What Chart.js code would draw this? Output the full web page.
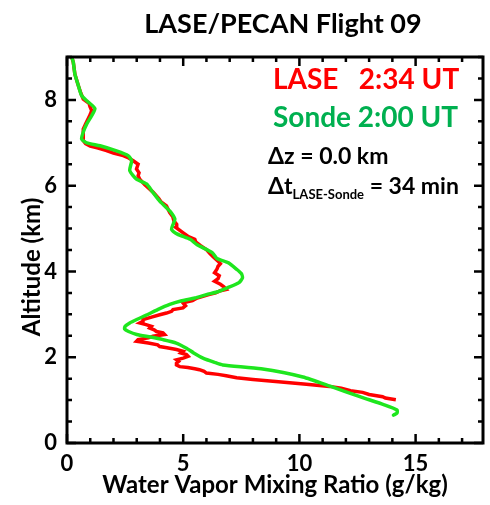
<!DOCTYPE html>
<html>
<head>
<meta charset="utf-8">
<script src="https://cdn.jsdelivr.net/npm/chart.js@4/dist/chart.umd.min.js"></script>
<style>
  html, body { margin: 0; padding: 0; background: #fff; }
  #wrap { width: 490px; height: 505px; }
</style>
</head>
<body>
<div id="wrap"><canvas id="chart" width="490" height="505"></canvas></div>
<script>
// ------------------------------------
// PROFILE DATA (altitude km, mixing ratio g/kg)
// ------------------------------------
const laseAlt = [
  1.01, 1.05, 1.08, 1.13, 1.18, 1.22, 1.28, 1.32, 1.37, 1.43, 1.48, 1.52,
  1.57, 1.60, 1.63, 1.67, 1.71, 1.73, 1.76, 1.78, 1.82, 1.86, 1.90, 1.94,
  1.98, 2.02, 2.06, 2.10, 2.14, 2.18, 2.22, 2.25, 2.29, 2.33, 2.37, 2.41,
  2.45, 2.49, 2.53, 2.57, 2.60, 2.64, 2.68, 2.72, 2.76, 2.80, 2.84, 2.88,
  2.93, 2.99, 3.03, 3.07, 3.11, 3.15, 3.20, 3.27, 3.32, 3.38, 3.42, 3.46,
  3.50, 3.55, 3.58, 3.64, 3.70, 3.77, 3.83, 3.90, 3.97, 4.05, 4.12, 4.18,
  4.24, 4.34, 4.42, 4.51, 4.60, 4.68, 4.75, 4.82, 4.90, 5.02, 5.10, 5.18,
  5.28, 5.37, 5.45, 5.53, 5.62, 5.70, 5.76, 5.85, 5.92, 6.02, 6.15, 6.23,
  6.30, 6.39, 6.50, 6.58, 6.66, 6.70, 6.76, 6.82, 6.88, 6.92, 6.98, 7.05,
  7.17, 7.32, 7.44, 7.56, 7.66, 7.75, 7.84, 7.92, 8.02, 8.15, 8.33, 8.60,
  8.88, 9.00
];
const laseQ = [
  14.15, 13.7, 13.58, 13.0, 12.72, 12.2, 11.8, 11.3, 10.3, 9.1, 8.0, 7.3,
  6.85, 6.5, 6.0, 5.9, 5.7, 5.5, 5.2, 4.85, 4.71, 4.71, 4.8, 4.71,
  5.0, 5.21, 5.14, 4.9, 4.99, 4.71, 4.3, 3.99, 3.9, 3.5, 2.99, 3.06,
  3.5, 3.7, 4.2, 4.13, 3.85, 3.75, 3.56, 3.63, 3.4, 3.13, 3.27, 3.27,
  3.6, 3.99, 4.28, 4.5, 4.56, 4.99, 5.1, 4.99, 5.4, 5.6, 5.85, 6.1,
  6.4, 6.6, 6.85, 6.75, 6.6, 6.35, 6.5, 6.55, 6.35, 6.45, 6.5, 6.6,
  6.5, 6.3, 6.15, 6.0, 5.75, 5.55, 5.5, 5.2, 5.0, 4.7, 4.72, 4.6,
  4.55, 4.42, 4.35, 4.28, 4.05, 3.95, 3.85, 3.7, 3.56, 3.35, 3.13, 3.06,
  3.1, 2.99, 3.06, 2.85, 2.6, 2.42, 2.0, 1.7, 1.3, 1.0, 0.8, 0.7,
  0.7, 0.7, 0.8, 0.91, 1.0, 1.06, 0.99, 0.95, 0.7, 0.6, 0.49, 0.34,
  0.27, 0.2
];

const sondeAlt = [
  0.65, 0.70, 0.77, 0.89, 1.08, 1.32, 1.54, 1.73, 1.82, 1.88, 1.98, 2.10,
  2.21, 2.33, 2.41, 2.47, 2.53, 2.60, 2.66, 2.72, 2.80, 2.88, 2.99, 3.11,
  3.23, 3.31, 3.38, 3.46, 3.52, 3.62, 3.74, 3.85, 3.95, 4.05, 4.20, 4.30,
  4.44, 4.62, 4.75, 4.87, 4.98, 5.12, 5.22, 5.41, 5.64, 5.84, 6.04, 6.15,
  6.35, 6.58, 6.70, 6.81, 6.93, 7.00, 7.09, 7.25, 7.44, 7.63, 7.80, 7.98,
  8.10, 8.33, 8.60, 8.88, 9.00
];
const sondeQ = [
  14.05, 14.2, 14.2, 13.65, 12.6, 11.35, 10.15, 8.35, 6.7, 6.35, 5.85, 5.45,
  5.14, 4.7, 4.13, 3.6, 3.0, 2.65, 2.48, 2.5, 2.7, 3.0, 3.45, 3.9,
  4.42, 4.9, 5.5, 6.0, 6.45, 6.9, 7.4, 7.55, 7.5, 7.3, 6.95, 6.45,
  6.25, 5.6, 5.3, 4.75, 4.5, 4.58, 4.64, 4.42, 3.99, 3.70, 3.42, 2.99,
  2.70, 2.78, 2.63, 2.13, 1.42, 0.85, 0.63, 0.7, 0.85, 1.06, 1.2, 0.85,
  0.63, 0.49, 0.34, 0.27, 0.2
];

// axis ranges and tick marks
const xMax = 17.9;
const yMax = 9;
const xLabelTicks = [0, 5, 10, 15];
const yLabelTicks = [0, 2, 4, 6, 8];
const xMinorStep = 1;
const yMinorStep = 0.5;

const RED = "#ff0000";
const LINE_GREEN = "#1ee61e";
const TEXT_GREEN = "#00b050";
const FONT = "Lato, 'Open Sans', sans-serif";

function toPoints(alt, q) {
  return alt.map((a, i) => ({ x: q[i], y: a }));
}

// ------------------------------------
// FRAME + INWARD TICKS + ANNOTATIONS
// ------------------------------------
const framePlugin = {
  id: "frame",
  afterDatasetsDraw(chart) {
    const { ctx, chartArea: a, scales } = chart;
    const xs = scales.x, ys = scales.y;
    ctx.save();
    ctx.strokeStyle = "#000";
    ctx.lineWidth = 2.5;
    ctx.beginPath();
    for (let v = 0; v <= xMax + 1e-6; v += xMinorStep) {
      const p = xs.getPixelForValue(v);
      const len = xLabelTicks.includes(v) ? 9 : 5;
      ctx.moveTo(p, a.bottom); ctx.lineTo(p, a.bottom - len);
      ctx.moveTo(p, a.top); ctx.lineTo(p, a.top + len);
    }
    for (let v = 0; v <= yMax + 1e-6; v += yMinorStep) {
      const p = ys.getPixelForValue(v);
      const len = yLabelTicks.includes(v) ? 9 : 5;
      ctx.moveTo(a.left, p); ctx.lineTo(a.left + len, p);
      ctx.moveTo(a.right, p); ctx.lineTo(a.right - len, p);
    }
    ctx.stroke();
    ctx.lineWidth = 3;
    ctx.strokeRect(a.left, a.top, a.right - a.left, a.bottom - a.top);
    ctx.restore();
  },
  afterDraw(chart) {
    const { ctx } = chart;
    ctx.save();
    ctx.textBaseline = "middle";

    // title
    ctx.fillStyle = "#000";
    ctx.textAlign = "center";
    ctx.font = "bold 27px " + FONT;
    ctx.fillText("LASE/PECAN Flight 09", 283, 24);

    // y axis title
    ctx.save();
    ctx.translate(32, 267);
    ctx.rotate(-Math.PI / 2);
    ctx.font = "bold 24px " + FONT;
    ctx.fillText("Altitude (km)", 0, 0);
    ctx.restore();

    // in-plot labels
    ctx.textAlign = "left";
    ctx.font = "bold 28px " + FONT;
    ctx.fillStyle = RED;
    ctx.fillText("LASE   2:34 UT", 273, 80);
    ctx.fillStyle = TEXT_GREEN;
    ctx.fillText("Sonde 2:00 UT", 273, 118);

    ctx.fillStyle = "#000";
    ctx.font = "bold 23px " + FONT;
    ctx.fillText("\u0394z = 0.0 km", 268, 157);
    let x = 268;
    ctx.fillText("\u0394t", x, 187);
    x += ctx.measureText("\u0394t").width;
    ctx.font = "bold 13px " + FONT;
    ctx.fillText("LASE-Sonde", x, 195);
    x += ctx.measureText("LASE-Sonde").width;
    ctx.font = "bold 23px " + FONT;
    ctx.fillText(" = 34 min", x, 187);
    ctx.restore();
  },
};

// ------------------------------------
// CHART
// ------------------------------------
const ctx = document.getElementById("chart").getContext("2d");
window.myChart = new Chart(ctx, {
  type: "scatter",
  data: {
    datasets: [
      {
        label: "LASE",
        data: toPoints(laseAlt, laseQ),
        showLine: true,
        borderColor: RED,
        borderWidth: 3.5,
        pointRadius: 0,
        tension: 0,
        order: 1,
      },
      {
        label: "Sonde",
        data: toPoints(sondeAlt, sondeQ),
        showLine: true,
        borderColor: LINE_GREEN,
        borderWidth: 3.5,
        pointRadius: 0,
        tension: 0.2,
        borderCapStyle: "round",
        borderJoinStyle: "round",
        order: 0,
      },
    ],
  },
  options: {
    responsive: false,
    animation: false,
    layout: { padding: { top: 57, right: 7, bottom: 0, left: 0 } },
    plugins: { legend: { display: false }, tooltip: { enabled: false } },
    scales: {
      x: {
        type: "linear",
        min: 0,
        max: xMax,
        afterBuildTicks: (s) => { s.ticks = xLabelTicks.map((v) => ({ value: v })); },
        afterFit: (s) => { s.height = 62; },
        grid: { display: false, drawTicks: false },
        border: { display: false },
        ticks: { color: "#000", padding: 8, font: { family: FONT, size: 22, weight: "bold" } },
        title: {
          display: true,
          text: "Water Vapor Mixing Ratio (g/kg)",
          color: "#000",
          font: { family: FONT, size: 24, weight: "bold" },
          padding: { top: 0, bottom: 5 },
        },
      },
      y: {
        type: "linear",
        min: 0,
        max: yMax,
        afterBuildTicks: (s) => { s.ticks = yLabelTicks.map((v) => ({ value: v })); },
        afterFit: (s) => { s.width = 67; },
        grid: { display: false, drawTicks: false },
        border: { display: false },
        ticks: { color: "#000", padding: 10, font: { family: FONT, size: 22, weight: "bold" } },
      },
    },
  },
  plugins: [framePlugin],
});
</script>
</body>
</html>
